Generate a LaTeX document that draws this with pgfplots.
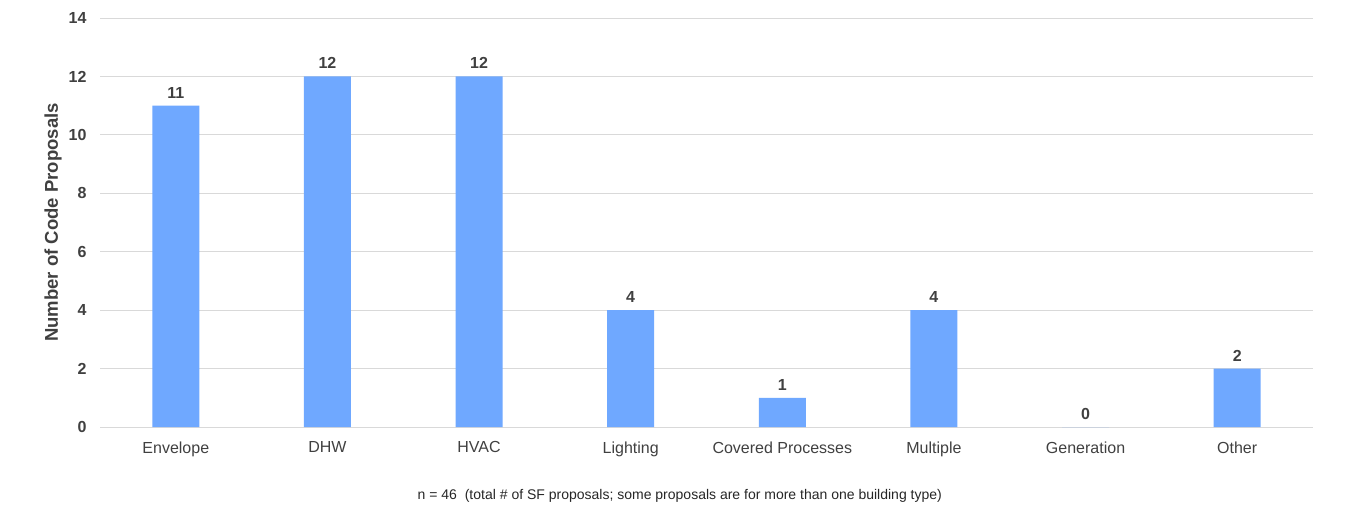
\documentclass[border=0pt]{standalone}
\usepackage{fontspec}
\setmainfont{Liberation Sans}
\usepackage{pgfplots}
\pgfplotsset{compat=1.18}
\definecolor{barblue}{HTML}{6FA8FF}
\definecolor{txt}{HTML}{404040}
\definecolor{gridc}{HTML}{D9D9D9}
\begin{document}
\begin{tikzpicture}
\begin{axis}[name=ax,
  scale only axis, width=1213pt, height=409pt,
  xmin=-0.5, xmax=7.5, ymin=0, ymax=14,
  ytick={0,2,...,14},
  xtick=data,
  xticklabels={Envelope,DHW,HVAC,Lighting,Covered Processes,Multiple,Generation,Other},
  axis x line*=bottom, axis y line*=left,
  x axis line style={draw=gridc, line width=1pt},
  y axis line style={draw=none},
  major tick length=0pt,
  ymajorgrids, grid style={gridc, line width=0.8pt},
  /pgf/number format/assume math mode=true,
  yticklabel style={font=\fontsize{16}{18}\selectfont\bfseries, text=txt, xshift=-10pt},
  xticklabel style={font=\fontsize{16}{18}\selectfont, text=txt, yshift=-11pt},
  ylabel={Number of Code Proposals},
  ylabel style={font=\fontsize{18.5}{21}\selectfont\bfseries, text=txt, at={(axis description cs:0,0.5)}, anchor=center, yshift=47pt},
  ybar, bar width=47pt,
  nodes near coords,
  every node near coord/.append style={font=\fontsize{16}{18}\selectfont\bfseries, text=txt, yshift=4pt},
  clip=false,
]
\addplot[fill=barblue, draw=none] coordinates {(0,11)(1,12)(2,12)(3,4)(4,1)(5,4)(6,0)(7,2)};
\node[font=\fontsize{14}{16}\selectfont, text=black!85] at (rel axis cs:0.478,0) [yshift=-69pt] {n = 46~ (total \# of SF proposals; some proposals are for more than one building type)};
\end{axis}
\pgfresetboundingbox
\path ([shift={(-100pt,-84pt)}]ax.south west) rectangle ([shift={(33pt,18pt)}]ax.north east);
\end{tikzpicture}
\end{document}
